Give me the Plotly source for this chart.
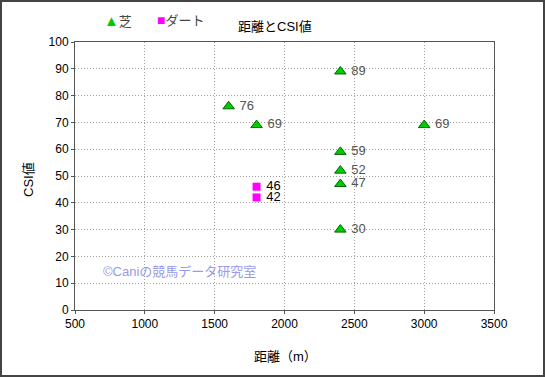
import plotly.graph_objects as go

turf_x = [1600, 1800, 2400, 2400, 2400, 2400, 2400, 3000]
turf_y = [76, 69, 89, 59, 52, 47, 30, 69]
dirt_x = [1800, 1800]
dirt_y = [46, 42]

W, H = 545, 377
L, R, T, B = 75, 51, 42, 67
pw, ph = W - L - R, H - T - B

font = "Liberation Sans, Noto Sans CJK JP, sans-serif"

def px_x(p):
    return (p - L) / pw

def px_y(p):
    return 1 - (p - T) / ph

fig = go.Figure()
fig.add_trace(go.Scatter(
    x=turf_x, y=turf_y, mode="markers+text", name="芝",
    marker=dict(symbol="triangle-up", size=10, color="#00cc00",
                line=dict(color="#006600", width=1)),
    text=[" " + str(v) for v in turf_y], textposition="middle right",
    textfont=dict(color="#555555", size=13, family=font),
    showlegend=False,
))
fig.add_trace(go.Scatter(
    x=dirt_x, y=dirt_y, mode="markers+text", name="ダート",
    marker=dict(symbol="square", size=8, color="#ff00ff",
                line=dict(color="#ff00ff", width=0)),
    text=[" " + str(v) for v in dirt_y], textposition="middle right",
    textfont=dict(color="#000000", size=13, family=font),
    showlegend=False,
))

axis_common = dict(showgrid=True, gridcolor="#a0a0a0", griddash="1px,2px",
                   gridwidth=1, showline=True, linecolor="#555555",
                   linewidth=1, mirror=True, ticks="outside", ticklen=3,
                   tickcolor="#555555", zeroline=False, automargin=False,
                   tickfont=dict(size=12))

fig.update_layout(
    width=W, height=H,
    margin=dict(l=L, r=R, t=T, b=B, autoexpand=False),
    paper_bgcolor="white", plot_bgcolor="white",
    font=dict(family=font, size=12, color="#000000"),
    showlegend=False,
    xaxis=dict(range=[500, 3500], dtick=500, title=dict(text=""),
               **axis_common),
    yaxis=dict(range=[0, 100], dtick=10, title=dict(text=""),
               **axis_common),
    annotations=[
        dict(text="距離とCSI値", x=px_x(275), y=px_y(26), xref="paper",
             yref="paper", showarrow=False, xanchor="center",
             yanchor="middle", font=dict(size=13)),
        dict(text="<span style='color:#00cc00;font-size:15px'>▲</span>芝",
             x=px_x(102), y=px_y(20), xref="paper", yref="paper",
             showarrow=False, xanchor="left", yanchor="middle",
             font=dict(size=13, color="#444444")),
        dict(text="<span style='color:#ff00ff;font-size:14px'>■</span>ダート",
             x=px_x(155), y=px_y(20), xref="paper", yref="paper",
             showarrow=False, xanchor="left", yanchor="middle",
             font=dict(size=13, color="#444444")),
        dict(text="距離（m）", x=px_x(285), y=px_y(356), xref="paper",
             yref="paper", showarrow=False, xanchor="center",
             yanchor="middle", font=dict(size=13)),
        dict(text="CSI値", x=px_x(28), y=px_y(180), xref="paper",
             yref="paper", showarrow=False, xanchor="center",
             yanchor="middle", textangle=-90, font=dict(size=13)),
        dict(text="©Caniの競馬データ研究室", x=px_x(101), y=px_y(271),
             xref="paper", yref="paper", showarrow=False,
             xanchor="left", yanchor="middle",
             font=dict(size=13, color="#9999ee")),
    ],
    shapes=[dict(type="rect", xref="paper", yref="paper",
                 x0=px_x(1), x1=px_x(W - 1), y0=px_y(H - 1), y1=px_y(1),
                 line=dict(color="#444444", width=2))],
)

fig.write_html("out.html", config={"displayModeBar": False},
               post_script="document.body.style.margin='0';"
                           "document.body.style.overflow='hidden';")
